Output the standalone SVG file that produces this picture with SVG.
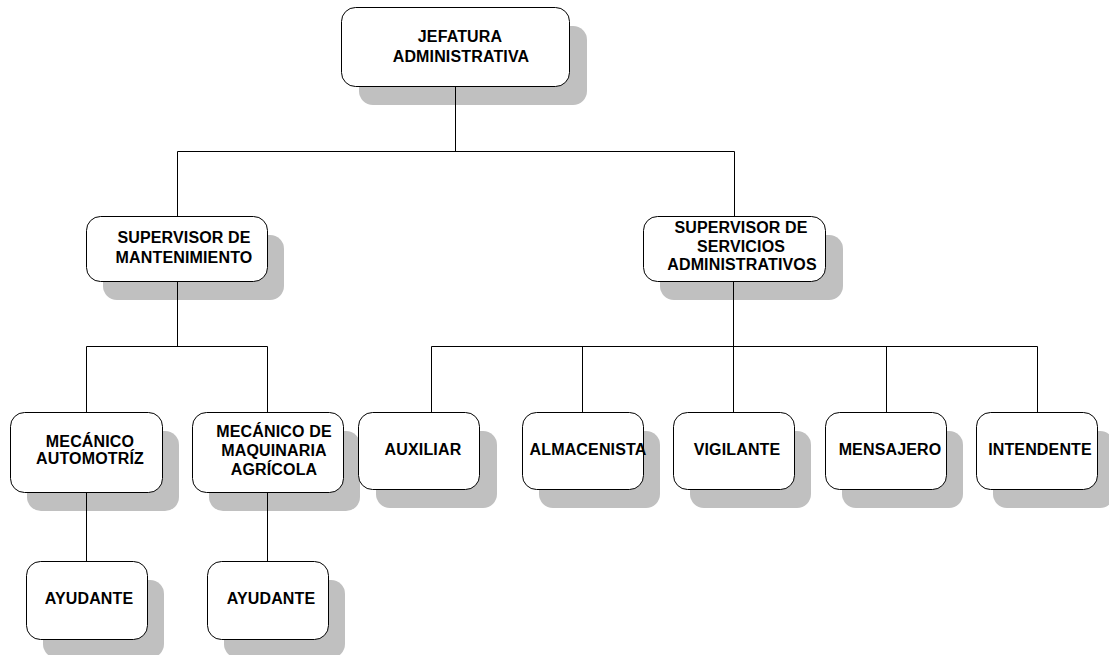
<svg xmlns="http://www.w3.org/2000/svg" width="1109" height="655" viewBox="0 0 1109 655">
<style>
.sh{fill:#c0c0c0;stroke:none}
.bx{fill:#fff;stroke:#000;stroke-width:1}
.ln{stroke:#000;stroke-width:1;fill:none}
text{font-family:"Liberation Sans",Arial,sans-serif;font-weight:bold;font-size:16px;letter-spacing:0.15px;text-anchor:middle;fill:#000}
</style>
<rect width="1109" height="655" fill="#fff"/>
<g id="shadows">
<rect class="sh" x="359" y="26" width="228" height="79" rx="14"/>
<rect class="sh" x="103" y="235" width="181" height="65" rx="14"/>
<rect class="sh" x="660" y="235" width="183" height="65" rx="14"/>
<rect class="sh" x="27" y="431" width="152" height="80" rx="14"/>
<rect class="sh" x="209" y="431" width="151" height="80" rx="14"/>
<rect class="sh" x="376" y="431" width="121" height="77" rx="14"/>
<rect class="sh" x="539" y="431" width="121" height="77" rx="14"/>
<rect class="sh" x="690" y="431" width="121" height="77" rx="14"/>
<rect class="sh" x="842" y="431" width="121" height="77" rx="14"/>
<rect class="sh" x="993" y="431" width="121" height="77" rx="14"/>
<rect class="sh" x="43" y="580" width="121" height="78" rx="14"/>
<rect class="sh" x="224" y="580" width="121" height="78" rx="14"/>
</g>
<g id="connectors">
<path class="ln" d="M455.5 86V151.5M177.5 151.5H734.5M177.5 151.5V216M734.5 151.5V216"/>
<path class="ln" d="M177.5 281V346.5M86.5 346.5H267.5M86.5 346.5V412M267.5 346.5V412M86.5 492V561M267.5 492V561"/>
<path class="ln" d="M733.5 281V346.5M431.5 346.5H1037.5M431.5 346.5V412M582.5 346.5V412M733.5 346.5V412M886.5 346.5V412M1037.5 346.5V412"/>
</g>
<g id="n_jefatura">
<rect class="bx" x="341.5" y="7.5" width="228" height="79" rx="14"/>
<text x="460" y="42">JEFATURA</text>
<text x="461" y="62">ADMINISTRATIVA</text>
</g>
<g id="n_sup_mant">
<rect class="bx" x="86.5" y="216.5" width="181" height="65" rx="14"/>
<text x="184" y="243">SUPERVISOR DE</text>
<text x="184" y="263">MANTENIMIENTO</text>
</g>
<g id="n_sup_serv">
<rect class="bx" x="643.5" y="216.5" width="182" height="65" rx="14"/>
<text x="741" y="233">SUPERVISOR DE</text>
<text x="741" y="252">SERVICIOS</text>
<text x="742" y="270">ADMINISTRATIVOS</text>
</g>
<g id="n_mec_auto">
<rect class="bx" x="10.5" y="412.5" width="152" height="80" rx="14"/>
<text x="90" y="447">MECÁNICO</text>
<text x="90" y="464">AUTOMOTRÍZ</text>
</g>
<g id="n_mec_maq">
<rect class="bx" x="192.5" y="412.5" width="151" height="80" rx="14"/>
<text x="274" y="437">MECÁNICO DE</text>
<text x="274" y="456">MAQUINARIA</text>
<text x="274" y="475">AGRÍCOLA</text>
</g>
<g id="n_auxiliar">
<rect class="bx" x="358.5" y="412.5" width="121" height="77" rx="14"/>
<text x="423" y="455">AUXILIAR</text>
</g>
<g id="n_almacenista">
<rect class="bx" x="522.5" y="412.5" width="121" height="77" rx="14"/>
<text x="588" y="455">ALMACENISTA</text>
</g>
<g id="n_vigilante">
<rect class="bx" x="673.5" y="412.5" width="121" height="77" rx="14"/>
<text x="737" y="455">VIGILANTE</text>
</g>
<g id="n_mensajero">
<rect class="bx" x="825.5" y="412.5" width="121" height="77" rx="14"/>
<text x="890" y="455">MENSAJERO</text>
</g>
<g id="n_intendente">
<rect class="bx" x="976.5" y="412.5" width="121" height="77" rx="14"/>
<text x="1040" y="455">INTENDENTE</text>
</g>
<g id="n_ayudante1">
<rect class="bx" x="26.5" y="561.5" width="121" height="78" rx="14"/>
<text x="89" y="604">AYUDANTE</text>
</g>
<g id="n_ayudante2">
<rect class="bx" x="207.5" y="561.5" width="121" height="78" rx="14"/>
<text x="271" y="604">AYUDANTE</text>
</g>
</svg>
